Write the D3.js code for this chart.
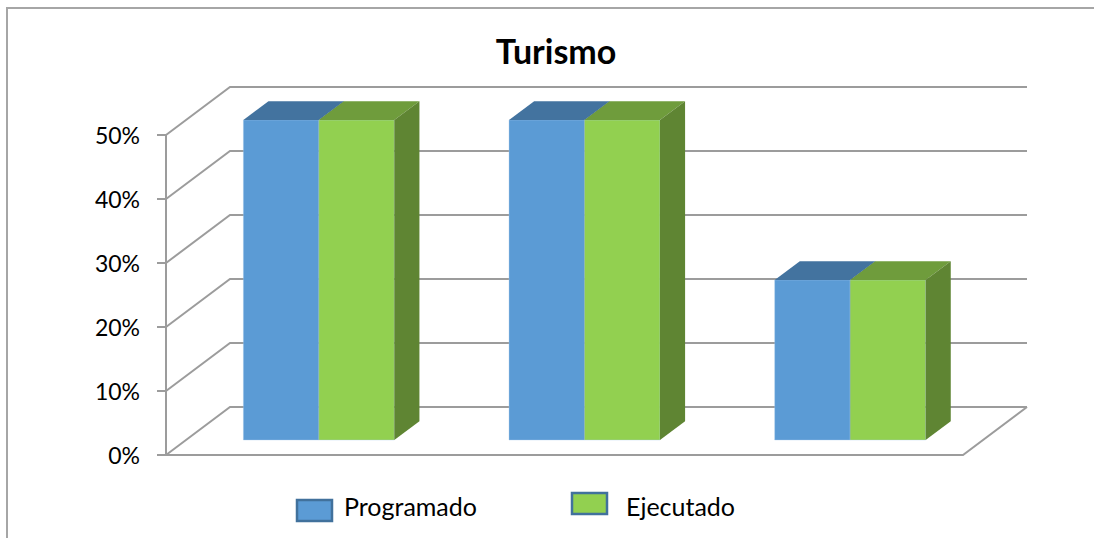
<!DOCTYPE html>
<html>
<head>
<meta charset="utf-8">
<script src="https://cdn.jsdelivr.net/npm/d3@7"></script>
<style>
  html, body { margin: 0; padding: 0; background: #fff; }
  svg { display: block; font-family: Lato, "Open Sans", sans-serif; }
</style>
</head>
<body>
<svg id="chart" width="1094" height="538"></svg>
<script>
// chart data
const categories = ["A", "B", "C"];
const seriesNames = ["Programado", "Ejecutado"];
const programado = [0.50, 0.50, 0.25];
const ejecutado = [0.50, 0.50, 0.25];
const yTicks = [0, 0.1, 0.2, 0.3, 0.4, 0.5];

const seriesValues = [programado, ejecutado];
const frontColor = ["#5b9bd5", "#92d050"];
const topColor = ["#43739f", "#6f9c3c"];
const sideColor = ["#3a6690", "#5f8533"];

const svg = d3.select("#chart");

// front plane of the floor / wall
const x0 = 166, x1 = 963;
const depthX = 64, depthY = 48;   // offset from front to back wall
const x = d3.scaleBand().domain(categories).range([x0, x1]);
const xs = d3.scaleBand().domain(seriesNames).range([0, x.bandwidth()]).paddingOuter(0.76);
const y = d3.scaleLinear().domain([0, 0.5]).range([455, 135]);

// project a point at depth z (0 = front, 1 = back)
const P = (px, py, z) => [px + z * depthX, py - z * depthY];
const pts = a => a.map(p => p.join(",")).join(" ");

// frame
svg.append("path")
  .attr("d", "M7,538 V8 H1094")
  .attr("fill", "none").attr("stroke", "#a6a6a6").attr("stroke-width", 2);

// title
svg.append("text")
  .attr("x", 556).attr("y", 64)
  .attr("text-anchor", "middle")
  .attr("font-weight", "bold").attr("font-size", 34)
  .text("Turismo");

const grid = svg.append("g")
  .attr("fill", "none").attr("stroke", "#9c9c9c").attr("stroke-width", 2);

// gridlines: side wall diagonal + back wall horizontal
yTicks.forEach(t => {
  const a = P(x0, y(t), 0), b = P(x0, y(t), 1), c = P(x1, y(t), 1);
  grid.append("polyline").attr("points", pts([a, b, c]));
});

// floor front and right edge
grid.append("polyline")
  .attr("points", pts([P(x0, y(0), 0), P(x1, y(0), 0), P(x1, y(0), 1)]));

// vertical axis + ticks
grid.append("line")
  .attr("x1", x0).attr("x2", x0).attr("y1", y(0.5)).attr("y2", y(0));
yTicks.forEach(t => {
  grid.append("line").attr("x1", x0 - 9).attr("x2", x0).attr("y1", y(t)).attr("y2", y(t));
});

// tick labels
svg.append("g")
  .selectAll("text")
  .data(yTicks)
  .join("text")
  .attr("x", 140).attr("y", d => y(d) + 9)
  .attr("text-anchor", "end")
  .attr("font-size", 23)
  .attr("fill", "#000")
  .text(d => d3.format(".0%")(d));

// bars
const zf = 0.3125, zb = 0.705;
const bars = svg.append("g");
categories.forEach((c, i) => {
  seriesNames.forEach((s, k) => {
    const v = seriesValues[k][i];
    const left = x(c) + xs(s), right = left + xs.bandwidth();
    const top = y(v), bottom = y(0);
    const fl = P(left, bottom, zf), ft = P(left, top, zf), fr = P(right, top, zf), frb = P(right, bottom, zf);
    const bl = P(left, top, zb), br = P(right, top, zb), brb = P(right, bottom, zb);

    // front face
    bars.append("polygon")
      .attr("points", pts([ft, fr, frb, fl]))
      .attr("fill", frontColor[k])
      .attr("stroke", "#a9c9ea").attr("stroke-width", 0.6).attr("stroke-opacity", 0.6);
    // top face
    bars.append("polygon")
      .attr("points", pts([ft, fr, br, bl]))
      .attr("fill", topColor[k]);
    // right side face
    bars.append("polygon")
      .attr("points", pts([fr, br, brb, frb]))
      .attr("fill", sideColor[k]);
  });
});

// legend
const legend = [
  { name: "Programado", rx: 297, ry: 500, tx: 344 },
  { name: "Ejecutado", rx: 572, ry: 493, tx: 626 }
];
legend.forEach((d, k) => {
  svg.append("rect")
    .attr("x", d.rx).attr("y", d.ry).attr("width", 35).attr("height", 21)
    .attr("fill", frontColor[k])
    .attr("stroke", "#41719c").attr("stroke-width", 2.5);
  svg.append("text")
    .attr("x", d.tx).attr("y", 516)
    .attr("font-size", 25)
    .text(d.name);
});
</script>
</body>
</html>
